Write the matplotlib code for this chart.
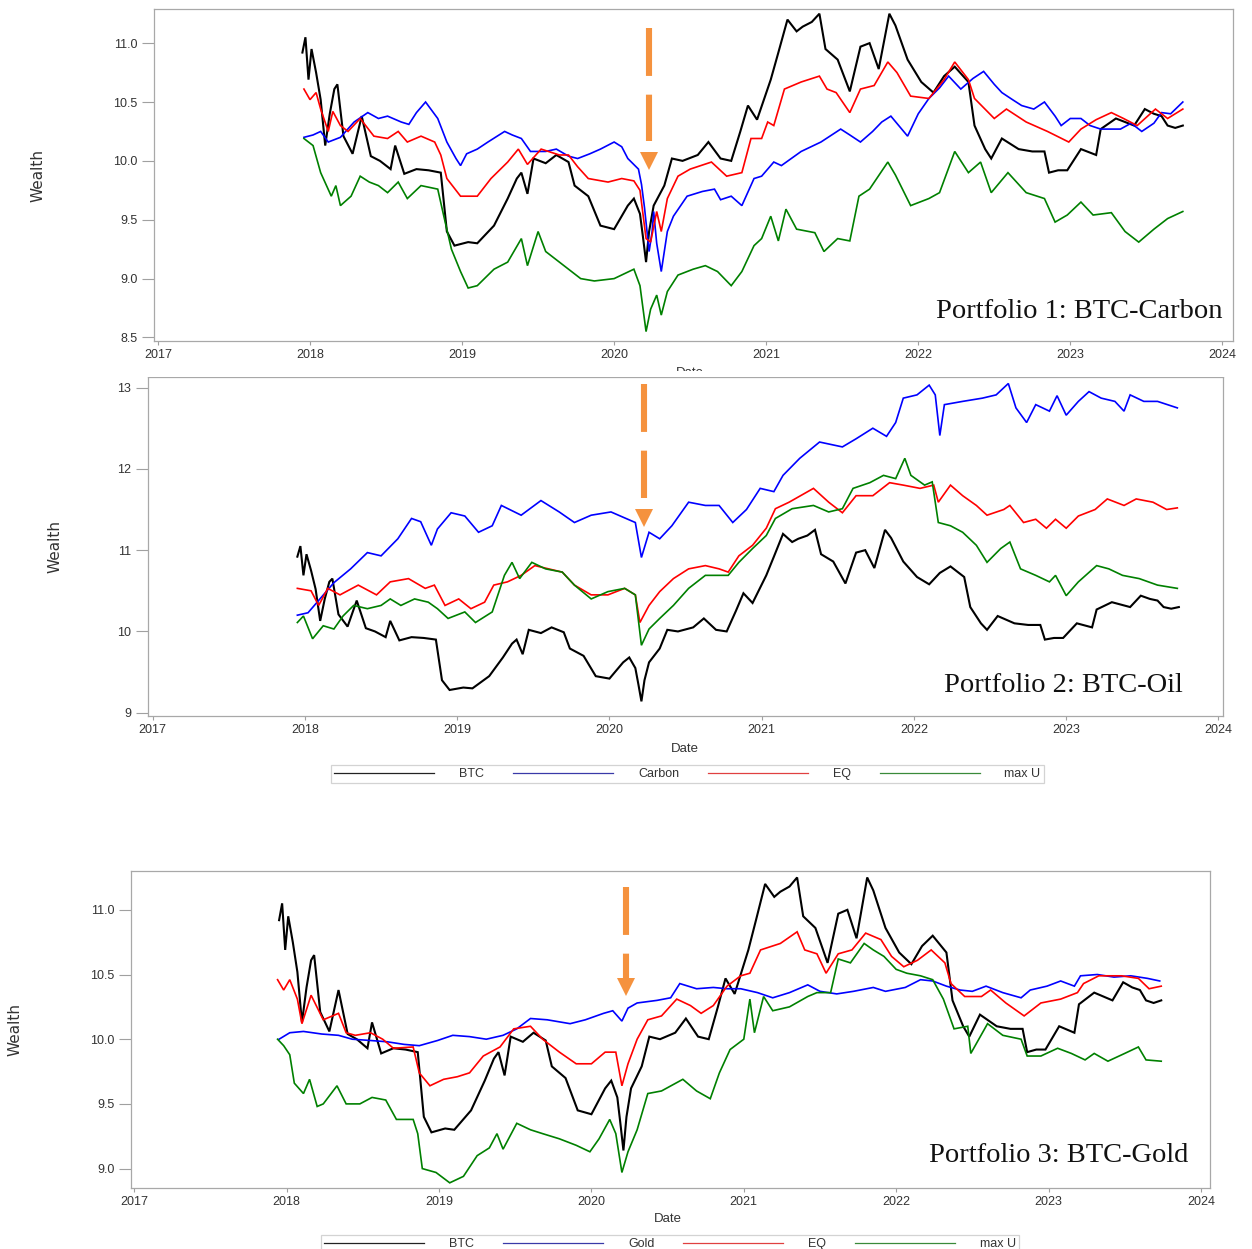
import matplotlib
matplotlib.use("Agg")
import matplotlib.pyplot as plt
from matplotlib.lines import Line2D
from matplotlib.patches import Rectangle

plt.rcParams['lines.scale_dashes'] = False

# ---------------- data (fractional year, wealth) ----------------
BTC = [(2017.95, 10.92), (2017.97, 11.05), (2017.99, 10.69), (2018.01, 10.95), (2018.04, 10.75),
       (2018.07, 10.52), (2018.10, 10.13), (2018.13, 10.40), (2018.16, 10.61), (2018.18, 10.65),
       (2018.22, 10.21), (2018.28, 10.06), (2018.34, 10.38), (2018.40, 10.04), (2018.46, 10.00),
       (2018.53, 9.93), (2018.56, 10.13), (2018.62, 9.89), (2018.70, 9.93), (2018.78, 9.92),
       (2018.86, 9.90), (2018.90, 9.40), (2018.95, 9.28), (2019.04, 9.31), (2019.10, 9.30),
       (2019.21, 9.45), (2019.30, 9.68), (2019.36, 9.85), (2019.39, 9.90), (2019.43, 9.72),
       (2019.47, 10.02), (2019.55, 9.98), (2019.62, 10.05), (2019.70, 9.99), (2019.74, 9.79),
       (2019.83, 9.70), (2019.91, 9.45), (2020.00, 9.42), (2020.09, 9.62), (2020.13, 9.68),
       (2020.17, 9.55), (2020.19, 9.35), (2020.21, 9.14), (2020.23, 9.40), (2020.26, 9.62),
       (2020.33, 9.79), (2020.38, 10.02), (2020.45, 10.00), (2020.55, 10.05), (2020.62, 10.16),
       (2020.70, 10.02), (2020.77, 10.00), (2020.83, 10.25), (2020.88, 10.47), (2020.94, 10.35),
       (2021.03, 10.69), (2021.08, 10.92), (2021.14, 11.20), (2021.20, 11.10), (2021.24, 11.14),
       (2021.30, 11.18), (2021.35, 11.25), (2021.39, 10.95), (2021.47, 10.86), (2021.55, 10.59),
       (2021.62, 10.97), (2021.68, 11.00), (2021.74, 10.78), (2021.81, 11.25), (2021.85, 11.15),
       (2021.93, 10.86), (2022.02, 10.67), (2022.10, 10.58), (2022.17, 10.72), (2022.24, 10.80),
       (2022.33, 10.67), (2022.37, 10.30), (2022.44, 10.10), (2022.48, 10.02), (2022.55, 10.19),
       (2022.66, 10.10), (2022.75, 10.08), (2022.83, 10.08), (2022.86, 9.90), (2022.92, 9.92),
       (2022.98, 9.92), (2023.07, 10.10), (2023.17, 10.05), (2023.20, 10.27), (2023.30, 10.36),
       (2023.42, 10.30), (2023.49, 10.44), (2023.55, 10.40), (2023.60, 10.38), (2023.64, 10.30),
       (2023.69, 10.28), (2023.74, 10.30)]

CARBON_P1 = [(2017.96, 10.20), (2018.02, 10.22), (2018.07, 10.25), (2018.12, 10.16), (2018.20, 10.20),
             (2018.29, 10.33), (2018.38, 10.41), (2018.45, 10.36), (2018.51, 10.38), (2018.60, 10.33),
             (2018.65, 10.31), (2018.70, 10.41), (2018.76, 10.50), (2018.84, 10.36), (2018.90, 10.16),
             (2018.96, 10.02), (2018.99, 9.96), (2019.03, 10.06), (2019.10, 10.10), (2019.17, 10.16),
             (2019.28, 10.25), (2019.33, 10.22), (2019.39, 10.19), (2019.45, 10.08), (2019.55, 10.08),
             (2019.62, 10.10), (2019.70, 10.04), (2019.76, 10.02), (2019.84, 10.06), (2019.91, 10.10),
             (2020.00, 10.16), (2020.05, 10.12), (2020.09, 10.02), (2020.16, 9.93), (2020.18, 9.80),
             (2020.20, 9.60), (2020.23, 9.23), (2020.25, 9.40), (2020.26, 9.57), (2020.28, 9.30),
             (2020.31, 9.06), (2020.35, 9.40), (2020.39, 9.53), (2020.48, 9.70), (2020.58, 9.74),
             (2020.66, 9.76), (2020.70, 9.67), (2020.77, 9.70), (2020.84, 9.62), (2020.92, 9.85),
             (2020.97, 9.87), (2021.05, 9.99), (2021.10, 9.96), (2021.23, 10.08), (2021.36, 10.16),
             (2021.49, 10.27), (2021.55, 10.22), (2021.62, 10.16), (2021.70, 10.25), (2021.76, 10.33),
             (2021.82, 10.38), (2021.93, 10.21), (2022.00, 10.40), (2022.07, 10.53), (2022.14, 10.62),
             (2022.20, 10.72), (2022.28, 10.61), (2022.36, 10.70), (2022.43, 10.76), (2022.50, 10.65),
             (2022.55, 10.58), (2022.62, 10.52), (2022.68, 10.47), (2022.76, 10.44), (2022.83, 10.50),
             (2022.90, 10.38), (2022.94, 10.30), (2023.00, 10.36), (2023.07, 10.36), (2023.13, 10.30),
             (2023.20, 10.27), (2023.33, 10.27), (2023.40, 10.32), (2023.47, 10.25), (2023.55, 10.32),
             (2023.60, 10.41), (2023.66, 10.40), (2023.74, 10.50)]

EQ_P1 = [(2017.96, 10.61), (2018.00, 10.52), (2018.04, 10.58), (2018.07, 10.44), (2018.12, 10.25),
         (2018.15, 10.42), (2018.20, 10.30), (2018.25, 10.25), (2018.33, 10.36), (2018.42, 10.21),
         (2018.51, 10.19), (2018.58, 10.25), (2018.64, 10.16), (2018.73, 10.21), (2018.82, 10.16),
         (2018.86, 10.05), (2018.90, 9.85), (2018.99, 9.70), (2019.10, 9.70), (2019.19, 9.85),
         (2019.30, 9.99), (2019.37, 10.10), (2019.43, 9.97), (2019.52, 10.10), (2019.64, 10.05),
         (2019.70, 10.05), (2019.76, 9.95), (2019.83, 9.85), (2019.96, 9.82), (2020.05, 9.85),
         (2020.13, 9.83), (2020.17, 9.75), (2020.21, 9.34), (2020.24, 9.31), (2020.28, 9.57),
         (2020.31, 9.40), (2020.35, 9.68), (2020.42, 9.87), (2020.50, 9.93), (2020.57, 9.96),
         (2020.64, 9.99), (2020.74, 9.87), (2020.84, 9.90), (2020.90, 10.19), (2020.97, 10.19),
         (2021.01, 10.33), (2021.05, 10.30), (2021.12, 10.61), (2021.23, 10.67), (2021.35, 10.72),
         (2021.40, 10.61), (2021.46, 10.58), (2021.55, 10.41), (2021.62, 10.61), (2021.71, 10.64),
         (2021.80, 10.84), (2021.86, 10.75), (2021.95, 10.55), (2022.07, 10.53), (2022.17, 10.69),
         (2022.24, 10.84), (2022.33, 10.69), (2022.37, 10.53), (2022.50, 10.36), (2022.58, 10.44),
         (2022.71, 10.33), (2022.85, 10.25), (2022.99, 10.16), (2023.07, 10.27), (2023.17, 10.35),
         (2023.27, 10.41), (2023.35, 10.36), (2023.44, 10.30), (2023.56, 10.44), (2023.64, 10.36),
         (2023.74, 10.44)]

MAXU_P1 = [(2017.96, 10.19), (2018.02, 10.13), (2018.07, 9.90), (2018.14, 9.70), (2018.17, 9.79),
           (2018.20, 9.62), (2018.27, 9.70), (2018.33, 9.87), (2018.39, 9.82), (2018.45, 9.79),
           (2018.51, 9.73), (2018.58, 9.82), (2018.64, 9.68), (2018.73, 9.79), (2018.84, 9.76),
           (2018.88, 9.53), (2018.93, 9.25), (2018.99, 9.06), (2019.04, 8.92), (2019.10, 8.94),
           (2019.21, 9.08), (2019.30, 9.14), (2019.39, 9.34), (2019.43, 9.11), (2019.50, 9.40),
           (2019.55, 9.23), (2019.67, 9.11), (2019.78, 9.00), (2019.87, 8.98), (2020.00, 9.00),
           (2020.13, 9.08), (2020.17, 8.94), (2020.21, 8.55), (2020.24, 8.74), (2020.28, 8.86),
           (2020.31, 8.69), (2020.35, 8.89), (2020.42, 9.03), (2020.52, 9.08), (2020.60, 9.11),
           (2020.68, 9.06), (2020.77, 8.94), (2020.84, 9.06), (2020.92, 9.28), (2020.97, 9.34),
           (2021.03, 9.53), (2021.08, 9.32), (2021.13, 9.59), (2021.20, 9.42), (2021.32, 9.39),
           (2021.38, 9.23), (2021.47, 9.34), (2021.55, 9.32), (2021.61, 9.70), (2021.68, 9.76),
           (2021.80, 9.99), (2021.85, 9.88), (2021.95, 9.62), (2022.07, 9.68), (2022.14, 9.73),
           (2022.24, 10.08), (2022.33, 9.90), (2022.41, 9.99), (2022.48, 9.73), (2022.59, 9.90),
           (2022.71, 9.73), (2022.83, 9.68), (2022.90, 9.48), (2022.98, 9.54), (2023.07, 9.65),
           (2023.15, 9.54), (2023.27, 9.56), (2023.36, 9.40), (2023.45, 9.31), (2023.55, 9.42),
           (2023.64, 9.51), (2023.74, 9.57)]

ASSET_P2 = [(2017.95, 10.20), (2018.02, 10.23), (2018.08, 10.36), (2018.19, 10.60), (2018.30, 10.77),
            (2018.41, 10.97), (2018.50, 10.93), (2018.61, 11.14), (2018.70, 11.39), (2018.76, 11.35),
            (2018.83, 11.06), (2018.87, 11.26), (2018.96, 11.46), (2019.05, 11.42), (2019.14, 11.22),
            (2019.23, 11.30), (2019.29, 11.55), (2019.42, 11.43), (2019.55, 11.61), (2019.67, 11.47),
            (2019.77, 11.34), (2019.88, 11.43), (2020.01, 11.47), (2020.17, 11.34), (2020.21, 10.91),
            (2020.26, 11.22), (2020.33, 11.14), (2020.41, 11.30), (2020.52, 11.59), (2020.63, 11.55),
            (2020.72, 11.55), (2020.81, 11.34), (2020.90, 11.50), (2020.99, 11.76), (2021.08, 11.72),
            (2021.14, 11.92), (2021.25, 12.13), (2021.38, 12.33), (2021.53, 12.27), (2021.62, 12.37),
            (2021.73, 12.50), (2021.82, 12.40), (2021.88, 12.57), (2021.93, 12.87), (2022.02, 12.91),
            (2022.10, 13.03), (2022.14, 12.91), (2022.17, 12.41), (2022.20, 12.79), (2022.32, 12.83),
            (2022.45, 12.87), (2022.54, 12.91), (2022.62, 13.05), (2022.67, 12.75), (2022.74, 12.57),
            (2022.80, 12.79), (2022.89, 12.71), (2022.94, 12.90), (2023.00, 12.66), (2023.08, 12.83),
            (2023.15, 12.95), (2023.23, 12.87), (2023.32, 12.83), (2023.38, 12.71), (2023.42, 12.91),
            (2023.51, 12.83), (2023.60, 12.83), (2023.73, 12.75)]

EQ_P2 = [(2017.95, 10.53), (2018.04, 10.50), (2018.09, 10.32), (2018.15, 10.53), (2018.23, 10.45),
         (2018.35, 10.57), (2018.47, 10.45), (2018.56, 10.61), (2018.68, 10.65), (2018.79, 10.53),
         (2018.85, 10.57), (2018.92, 10.32), (2019.01, 10.40), (2019.09, 10.28), (2019.18, 10.36),
         (2019.24, 10.57), (2019.33, 10.61), (2019.42, 10.69), (2019.51, 10.81), (2019.60, 10.77),
         (2019.69, 10.73), (2019.77, 10.57), (2019.88, 10.45), (2019.99, 10.45), (2020.10, 10.53),
         (2020.17, 10.45), (2020.20, 10.11), (2020.26, 10.32), (2020.33, 10.49), (2020.42, 10.65),
         (2020.52, 10.77), (2020.63, 10.81), (2020.72, 10.77), (2020.78, 10.73), (2020.85, 10.93),
         (2020.94, 11.06), (2021.03, 11.27), (2021.09, 11.51), (2021.18, 11.59), (2021.34, 11.76),
         (2021.44, 11.59), (2021.53, 11.46), (2021.62, 11.67), (2021.73, 11.67), (2021.84, 11.83),
         (2021.93, 11.80), (2022.04, 11.76), (2022.13, 11.80), (2022.16, 11.59), (2022.24, 11.80),
         (2022.32, 11.67), (2022.41, 11.55), (2022.48, 11.43), (2022.59, 11.50), (2022.63, 11.55),
         (2022.72, 11.34), (2022.80, 11.38), (2022.87, 11.27), (2022.93, 11.38), (2023.00, 11.27),
         (2023.08, 11.42), (2023.19, 11.50), (2023.27, 11.63), (2023.38, 11.55), (2023.46, 11.63),
         (2023.57, 11.59), (2023.66, 11.50), (2023.73, 11.52)]

MAXU_P2 = [(2017.95, 10.11), (2017.99, 10.19), (2018.05, 9.91), (2018.12, 10.07), (2018.19, 10.03),
           (2018.25, 10.19), (2018.32, 10.32), (2018.41, 10.28), (2018.50, 10.32), (2018.56, 10.40),
           (2018.63, 10.32), (2018.72, 10.40), (2018.81, 10.36), (2018.87, 10.28), (2018.94, 10.16),
           (2019.05, 10.24), (2019.12, 10.11), (2019.23, 10.24), (2019.31, 10.69), (2019.36, 10.85),
           (2019.41, 10.65), (2019.49, 10.85), (2019.58, 10.77), (2019.69, 10.73), (2019.77, 10.57),
           (2019.88, 10.40), (2019.99, 10.49), (2020.10, 10.53), (2020.17, 10.45), (2020.21, 9.83),
           (2020.26, 10.03), (2020.33, 10.16), (2020.42, 10.32), (2020.52, 10.53), (2020.63, 10.69),
           (2020.72, 10.69), (2020.78, 10.69), (2020.85, 10.85), (2020.94, 11.02), (2021.03, 11.18),
           (2021.09, 11.39), (2021.20, 11.51), (2021.34, 11.55), (2021.44, 11.47), (2021.53, 11.51),
           (2021.60, 11.76), (2021.71, 11.83), (2021.80, 11.92), (2021.88, 11.88), (2021.94, 12.13),
           (2021.98, 11.92), (2022.07, 11.80), (2022.12, 11.84), (2022.16, 11.34), (2022.24, 11.30),
           (2022.32, 11.22), (2022.41, 11.06), (2022.48, 10.85), (2022.57, 11.02), (2022.63, 11.10),
           (2022.70, 10.77), (2022.80, 10.69), (2022.89, 10.61), (2022.93, 10.69), (2023.00, 10.44),
           (2023.08, 10.61), (2023.20, 10.81), (2023.28, 10.77), (2023.37, 10.69), (2023.48, 10.65),
           (2023.60, 10.57), (2023.73, 10.53)]

GOLD_P3 = [(2017.95, 10.00), (2018.02, 10.05), (2018.11, 10.06), (2018.23, 10.04), (2018.34, 10.03),
           (2018.43, 10.00), (2018.55, 9.99), (2018.66, 9.98), (2018.77, 9.96), (2018.87, 9.95),
           (2018.99, 9.99), (2019.09, 10.03), (2019.20, 10.02), (2019.31, 10.00), (2019.42, 10.03),
           (2019.51, 10.08), (2019.60, 10.16), (2019.71, 10.15), (2019.86, 10.12), (2019.96, 10.15),
           (2020.08, 10.20), (2020.14, 10.22), (2020.20, 10.14), (2020.24, 10.24), (2020.30, 10.28),
           (2020.43, 10.30), (2020.52, 10.32), (2020.58, 10.43), (2020.69, 10.39), (2020.80, 10.40),
           (2020.89, 10.39), (2020.98, 10.39), (2021.09, 10.36), (2021.19, 10.32), (2021.30, 10.36),
           (2021.42, 10.42), (2021.50, 10.37), (2021.61, 10.35), (2021.72, 10.37), (2021.85, 10.40),
           (2021.93, 10.37), (2022.06, 10.40), (2022.16, 10.46), (2022.24, 10.45), (2022.33, 10.41),
           (2022.42, 10.38), (2022.50, 10.37), (2022.59, 10.41), (2022.70, 10.36), (2022.82, 10.32),
           (2022.88, 10.38), (2022.99, 10.41), (2023.08, 10.45), (2023.17, 10.41), (2023.21, 10.49),
           (2023.32, 10.50), (2023.43, 10.48), (2023.54, 10.49), (2023.65, 10.47), (2023.73, 10.45)]

EQ_P3 = [(2017.94, 10.46), (2017.98, 10.38), (2018.02, 10.46), (2018.07, 10.31), (2018.10, 10.12),
         (2018.16, 10.34), (2018.24, 10.15), (2018.34, 10.20), (2018.39, 10.05), (2018.45, 10.03),
         (2018.55, 10.05), (2018.63, 10.00), (2018.70, 9.93), (2018.83, 9.94), (2018.87, 9.74),
         (2018.94, 9.64), (2019.03, 9.69), (2019.12, 9.71), (2019.20, 9.74), (2019.29, 9.87),
         (2019.40, 9.94), (2019.49, 10.08), (2019.60, 10.10), (2019.68, 10.00), (2019.79, 9.90),
         (2019.90, 9.81), (2020.00, 9.81), (2020.09, 9.90), (2020.16, 9.90), (2020.20, 9.64),
         (2020.24, 9.81), (2020.30, 10.00), (2020.37, 10.15), (2020.46, 10.18), (2020.56, 10.31),
         (2020.65, 10.26), (2020.72, 10.20), (2020.80, 10.26), (2020.89, 10.41), (2020.98, 10.49),
         (2021.04, 10.51), (2021.11, 10.69), (2021.24, 10.74), (2021.35, 10.83), (2021.40, 10.69),
         (2021.48, 10.66), (2021.54, 10.51), (2021.62, 10.66), (2021.71, 10.69), (2021.80, 10.82),
         (2021.90, 10.77), (2021.97, 10.64), (2022.05, 10.56), (2022.14, 10.61), (2022.23, 10.69),
         (2022.32, 10.59), (2022.36, 10.43), (2022.45, 10.33), (2022.56, 10.33), (2022.62, 10.38),
         (2022.72, 10.28), (2022.84, 10.18), (2022.95, 10.28), (2023.08, 10.31), (2023.19, 10.36),
         (2023.23, 10.43), (2023.33, 10.49), (2023.48, 10.49), (2023.59, 10.47), (2023.66, 10.39),
         (2023.74, 10.41)]

MAXU_P3 = [(2017.94, 10.00), (2017.98, 9.95), (2018.02, 9.88), (2018.05, 9.66), (2018.11, 9.58),
           (2018.15, 9.69), (2018.20, 9.48), (2018.24, 9.50), (2018.33, 9.64), (2018.39, 9.50),
           (2018.48, 9.50), (2018.56, 9.55), (2018.65, 9.53), (2018.72, 9.38), (2018.83, 9.38),
           (2018.86, 9.27), (2018.89, 9.00), (2018.98, 8.97), (2019.07, 8.89), (2019.16, 8.94),
           (2019.25, 9.10), (2019.33, 9.16), (2019.38, 9.27), (2019.42, 9.15), (2019.51, 9.35),
           (2019.60, 9.30), (2019.68, 9.27), (2019.79, 9.23), (2019.90, 9.18), (2019.99, 9.13),
           (2020.05, 9.23), (2020.12, 9.38), (2020.16, 9.27), (2020.20, 8.97), (2020.24, 9.13),
           (2020.30, 9.30), (2020.37, 9.58), (2020.46, 9.60), (2020.60, 9.69), (2020.69, 9.60),
           (2020.78, 9.54), (2020.84, 9.74), (2020.91, 9.92), (2021.00, 10.00), (2021.04, 10.31),
           (2021.07, 10.05), (2021.13, 10.33), (2021.19, 10.22), (2021.30, 10.25), (2021.42, 10.33),
           (2021.48, 10.36), (2021.57, 10.36), (2021.62, 10.62), (2021.70, 10.59), (2021.79, 10.74),
           (2021.85, 10.69), (2021.92, 10.64), (2022.00, 10.54), (2022.07, 10.51), (2022.16, 10.49),
           (2022.24, 10.46), (2022.31, 10.31), (2022.38, 10.08), (2022.47, 10.10), (2022.49, 9.89),
           (2022.60, 10.12), (2022.70, 10.03), (2022.82, 10.00), (2022.86, 9.87), (2022.95, 9.87),
           (2023.06, 9.93), (2023.15, 9.89), (2023.24, 9.84), (2023.30, 9.89), (2023.39, 9.83),
           (2023.50, 9.89), (2023.59, 9.94), (2023.64, 9.84), (2023.74, 9.83)]

YEAR_TICKS = [2017, 2018, 2019, 2020, 2021, 2022, 2023, 2024]
YTICKS_P1 = [8.5, 9.0, 9.5, 10.0, 10.5, 11.0]
YTICKS_P2 = [9, 10, 11, 12, 13]
YTICKS_P3 = [9.0, 9.5, 10.0, 10.5, 11.0]
LEGEND_P12 = ["BTC", "Carbon", "EQ", "max U"]
LEGEND_P3 = ["BTC", "Gold", "EQ", "max U"]
TITLES = ["Portfolio 1: BTC-Carbon", "Portfolio 2: BTC-Oil", "Portfolio 3: BTC-Gold"]
EVENT_DATE = 2020.23   # COVID crash marker

COLORS = ["#000000", "#0000ff", "#ff0000", "#008000"]
LWS = [1.5, 1.2, 1.2, 1.2]

# ---------------- figure ----------------
W, H = 1252, 1249
fig = plt.figure(figsize=(W / 100, H / 100), dpi=100)
fig.patch.set_facecolor("white")


def rect(l, t, r, b):
    return [l / W, 1 - b / H, (r - l) / W, (b - t) / H]


TICKFONT = ["Liberation Sans", "DejaVu Sans"]
SPINE = "#a8a8a8"


def style_axes(ax, xlim, ylim, yticks, yfmt, ylab_x, title, tx, ty):
    ax.set_xlim(*xlim)
    ax.set_ylim(*ylim)
    ax.set_xticks(YEAR_TICKS)
    ax.set_xticklabels([str(y) for y in YEAR_TICKS])
    ax.set_yticks(yticks)
    ax.set_yticklabels([yfmt.format(v) for v in yticks])
    for s in ax.spines.values():
        s.set_color(SPINE)
        s.set_linewidth(0.9)
    ax.tick_params(axis="y", length=9, width=0.8, color="#a0a0a0", pad=3,
                   labelsize=9, labelcolor="#333333")
    ax.tick_params(axis="x", length=3, width=0.8, color="#a0a0a0", pad=3,
                   labelsize=9, labelcolor="#333333")
    for lab in ax.get_xticklabels() + ax.get_yticklabels():
        lab.set_family(TICKFONT)
    ax.set_ylabel("Wealth", family=["Liberation Sans Narrow", "DejaVu Sans"],
                  fontsize=11, color="#333333")
    ax.yaxis.set_label_coords(ylab_x, 0.5)
    ax.set_xlabel("Date", family=TICKFONT, fontsize=9.5, color="#333333")
    ax.text(tx, ty, title, transform=ax.transAxes, ha="right", va="baseline",
            family=["Liberation Serif", "DejaVu Serif"], fontsize=20.5, color="#111111")


def plot_series(ax, series_list):
    for s, c, lw in zip(series_list, COLORS, LWS):
        t = [p[0] for p in s]
        v = [p[1] for p in s]
        ax.plot(t, v, color=c, lw=lw, solid_joinstyle="miter")


def event_arrow(ax, y_top, y_end, y_head):
    ax.plot([EVENT_DATE, EVENT_DATE], [y_top, y_end], color="#f5923e", lw=4.4,
            dashes=(34.5, 13.5), solid_capstyle="butt", dash_capstyle="butt", zorder=5)
    ax.plot([EVENT_DATE], [y_head], marker="v", markersize=12.5, color="#f5923e",
            markeredgewidth=0, zorder=5)


# Panel 1
ax1 = fig.add_axes(rect(154, 9, 1233, 341))
plot_series(ax1, [BTC, CARBON_P1, EQ_P1, MAXU_P1])
style_axes(ax1, (2016.974, 2024.07), (8.47, 11.29), YTICKS_P1, "{:.1f}", -0.101,
           TITLES[0], 0.990, 0.069)
ax1.xaxis.set_label_coords(0.497, -0.078)
event_arrow(ax1, 11.13, 10.17, 10.0)

# cover the clipped "Date" label of panel 1 like in the reference
fig.patches.append(Rectangle((0, 1 - 376.5 / H), 1, 5 / H, transform=fig.transFigure,
                             facecolor="white", edgecolor="none", zorder=1))

# Panel 2
ax2 = fig.add_axes(rect(148, 377, 1223, 716))
plot_series(ax2, [BTC, ASSET_P2, EQ_P2, MAXU_P2])
style_axes(ax2, (2016.969, 2024.03), (8.96, 13.13), YTICKS_P2, "{:d}", -0.080,
           TITLES[1], 0.963, 0.071)
ax2.xaxis.set_label_coords(0.4995, -0.080)
event_arrow(ax2, 13.04, 11.64, 11.40)

# Panel 3
ax3 = fig.add_axes(rect(131, 871, 1210, 1188))
plot_series(ax3, [BTC, GOLD_P3, EQ_P3, MAXU_P3])
style_axes(ax3, (2016.978, 2024.06), (8.85, 11.30), YTICKS_P3, "{:.1f}", -0.101,
           TITLES[2], 0.980, 0.082)
ax3.xaxis.set_label_coords(0.498, -0.079)
event_arrow(ax3, 11.178, 10.467, 10.405)


def legend(labels, l, t, r, b):
    handles = [Line2D([], [], color=c, lw=0.9) for c in ["#222222", "#3a3aa8", "#e04040", "#3a8a3a"]]
    lg = fig.legend(handles, labels, loc="center", ncol=4, mode="expand",
                    bbox_to_anchor=(l / W, 1 - b / H, (r - l) / W, (b - t) / H),
                    handlelength=8.0, handletextpad=2.0, borderpad=0.25,
                    fontsize=9, frameon=True, fancybox=False,
                    prop={"family": TICKFONT, "size": 9})
    fr = lg.get_frame()
    fr.set_edgecolor("#c8c8c8")
    fr.set_linewidth(0.9)
    for tx in lg.get_texts():
        tx.set_color("#333333")
    return lg


legend(LEGEND_P12, 325, 766, 1050, 782)
legend(LEGEND_P3, 315, 1236, 1025, 1252)

fig.savefig("out.png", dpi=100, facecolor="white")
